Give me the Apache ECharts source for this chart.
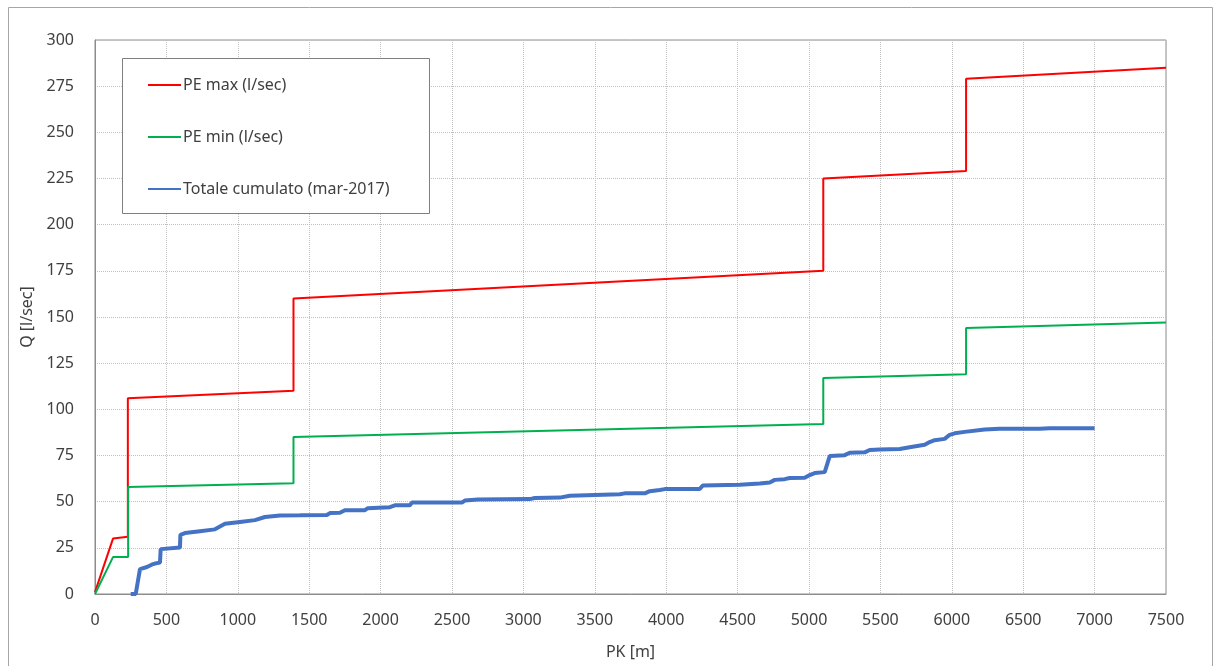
<!DOCTYPE html>
<html>
<head>
<meta charset="utf-8">
<script src="https://cdn.jsdelivr.net/npm/echarts@6/dist/echarts.min.js"></script>
<style>
html,body{margin:0;padding:0;background:#fff;}
#chart{width:1214px;height:666px;}
</style>
</head>
<body>
<div id="chart"></div>
<script>
// Series names
const seriesNames = ['PE max (l/sec)', 'PE min (l/sec)', 'Totale cumulato (mar-2017)'];

// PE max [PK m, Q l/sec]
const peMax = [[0,1],[126,30],[230,31],[230,106],[1390,110],[1390,160],[5100,175],[5100,225],[6100,229],[6100,279],[7500,285]];

// PE min [PK m, Q l/sec]
const peMin = [[0,0],[126,20],[232,20],[232,58],[1390,60],[1390,85],[5100,92],[5100,117],[6100,119],[6100,144],[7500,147]];

// Totale cumulato (mar-2017) [PK m, Q l/sec]
const totale = [[250,0],[285,0],[315,13.5],[364,14.6],[400,16],[420,16.5],[455,17],[460,24.3],[595,25.2],[598,32],[630,33],[735,34],[840,35],[910,38],[1015,39],[1120,40],[1190,41.7],[1295,42.5],[1435,42.6],[1624,42.8],[1645,43.8],[1715,44],[1750,45.4],[1890,45.4],[1911,46.5],[2065,47],[2100,48],[2205,48],[2219,49.5],[2569,49.5],[2590,50.6],[2681,51.2],[3045,51.4],[3080,52],[3255,52.2],[3325,53.2],[3675,54],[3710,54.5],[3850,54.5],[3885,55.7],[3955,56.3],[3990,56.8],[4235,56.8],[4256,58.8],[4515,59.2],[4655,59.8],[4725,60.4],[4760,61.8],[4830,62.2],[4865,62.8],[4970,63],[5005,64.4],[5040,65.5],[5110,66],[5145,74.7],[5250,75.2],[5285,76.5],[5390,76.7],[5425,78],[5495,78.2],[5635,78.5],[5705,79.5],[5810,80.8],[5845,82.3],[5880,83.3],[5950,84],[5985,86.2],[6020,87],[6090,87.8],[6230,89.1],[6335,89.5],[6615,89.5],[6685,89.8],[7000,89.8]];

// Axis settings
const xName = 'PK [m]';
const yName = 'Q [l/sec]';
const xMin = 0, xMax = 7500, xStep = 500;
const yMin = 0, yMax = 300, yStep = 25;

const FONT = 'Noto Sans';
const TXT = '#404040';

const chart = echarts.init(document.getElementById('chart'), null, {renderer: 'canvas'});
chart.setOption({
  animation: false,
  backgroundColor: '#ffffff',
  textStyle: {fontFamily: FONT},
  grid: {left: 95, top: 40, width: 1071, height: 554, show: true, borderColor: '#8c8c8c', borderWidth: 1, backgroundColor: 'transparent'},
  graphic: [
    {type: 'rect', shape: {x: 8.5, y: 7.5, width: 1204, height: 700}, style: {fill: 'none', stroke: '#a6a6a6', lineWidth: 1}, z: -10},
    {type: 'rect', shape: {x: 122.5, y: 58.5, width: 307, height: 155}, style: {fill: '#ffffff', stroke: '#808080', lineWidth: 1}, z: 50}
  ],
  legend: {
    orient: 'vertical',
    left: 148, top: 77,
    padding: 0,
    icon: 'rect',
    itemWidth: 33, itemHeight: 2, itemGap: 36,
    z: 60,
    textStyle: {fontFamily: FONT, fontSize: 16, lineHeight: 16, color: TXT, padding: [0, 0, 0, -3]},
    data: seriesNames
  },
  xAxis: {
    type: 'value', min: xMin, max: xMax, interval: xStep,
    name: xName, nameLocation: 'middle', nameGap: 50,
    nameTextStyle: {fontFamily: FONT, fontSize: 16, color: TXT},
    axisLine: {show: true, lineStyle: {color: '#8c8c8c', width: 1}},
    axisTick: {show: false},
    axisLabel: {margin: 18, fontFamily: FONT, fontSize: 16, color: TXT, formatter: v => String(v)},
    splitLine: {show: true, lineStyle: {color: '#bfbfbf', type: 'dotted', width: 1}}
  },
  yAxis: {
    type: 'value', min: yMin, max: yMax, interval: yStep,
    name: yName, nameLocation: 'middle', nameGap: 58, nameRotate: 90,
    nameTextStyle: {fontFamily: FONT, fontSize: 16, color: TXT},
    axisLine: {show: true, lineStyle: {color: '#8c8c8c', width: 1}},
    axisTick: {show: false},
    axisLabel: {margin: 21, fontFamily: FONT, fontSize: 16, color: TXT, formatter: v => String(v)},
    splitLine: {show: true, lineStyle: {color: '#bfbfbf', type: 'dotted', width: 1}}
  },
  series: [
    {name: seriesNames[0], type: 'line', data: peMax, symbol: 'none', lineStyle: {color: '#ff0000', width: 2}, itemStyle: {color: '#ff0000'}, z: 3},
    {name: seriesNames[1], type: 'line', data: peMin, symbol: 'none', lineStyle: {color: '#00b050', width: 2}, itemStyle: {color: '#00b050'}, z: 3},
    {name: seriesNames[2], type: 'line', data: totale, symbol: 'none', lineStyle: {color: '#4472c4', width: 4}, itemStyle: {color: '#4472c4'}, z: 4}
  ]
});
</script>
</body>
</html>
